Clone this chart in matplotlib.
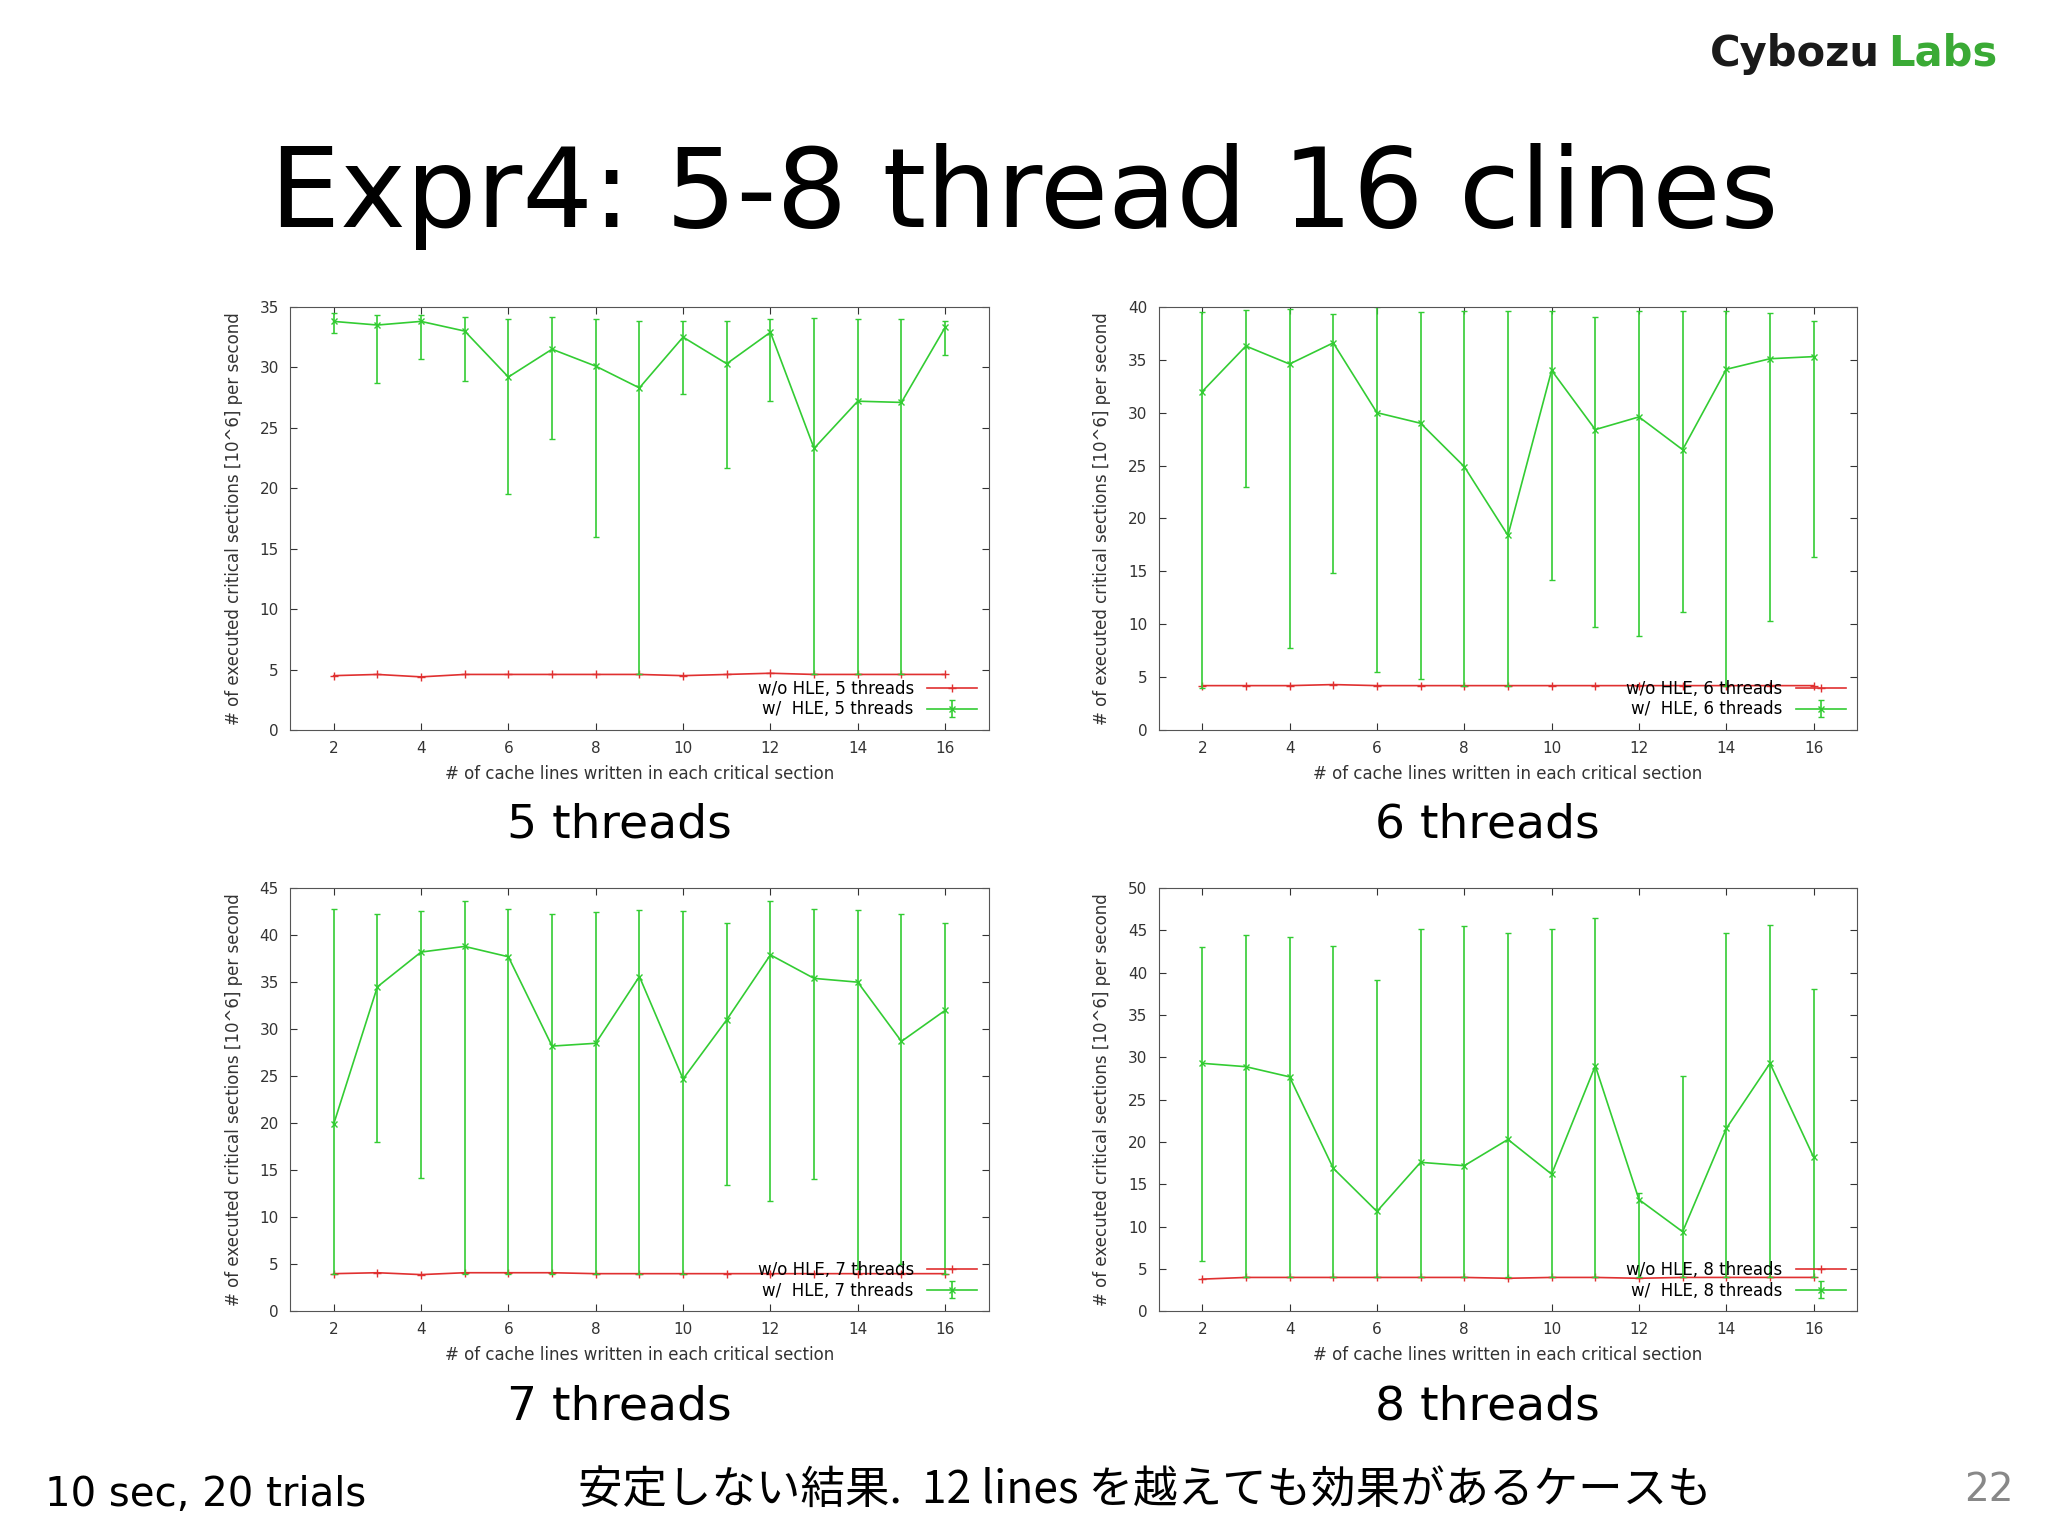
import numpy as np
import matplotlib
matplotlib.use('Agg')
import matplotlib.pyplot as plt

plt.rcParams['font.family'] = ['DejaVu Sans', 'Noto Sans CJK JP']

x = np.arange(2, 17)

# 5 threads
hle5 = [33.8, 33.5, 33.8, 33.0, 29.2, 31.5, 30.1, 28.3, 32.5, 30.3, 32.9, 23.3, 27.2, 27.1, 33.3]
lo5 = [32.8, 28.7, 30.7, 28.9, 19.5, 24.1, 16.0, 4.6, 27.8, 21.7, 27.2, 4.6, 4.6, 4.6, 31.0]
hi5 = [34.5, 34.3, 34.3, 34.2, 34.0, 34.2, 34.0, 33.8, 33.8, 33.8, 34.0, 34.1, 34.0, 34.0, 33.8]
nohle5 = [4.5, 4.6, 4.4, 4.6, 4.6, 4.6, 4.6, 4.6, 4.5, 4.6, 4.7, 4.6, 4.6, 4.6, 4.6]

# 6 threads
hle6 = [32.0, 36.3, 34.6, 36.6, 30.0, 29.0, 24.9, 18.4, 34.0, 28.4, 29.6, 26.5, 34.1, 35.1, 35.3]
lo6 = [4.0, 23.0, 7.8, 14.8, 5.5, 4.8, 4.2, 4.2, 14.2, 9.7, 8.9, 11.2, 4.2, 10.3, 16.4]
hi6 = [39.5, 39.7, 39.8, 39.3, 40.0, 39.5, 39.6, 39.6, 39.6, 39.0, 39.6, 39.6, 39.6, 39.4, 38.7]
nohle6 = [4.2, 4.2, 4.2, 4.3, 4.2, 4.2, 4.2, 4.2, 4.2, 4.2, 4.2, 4.2, 4.2, 4.2, 4.2]

# 7 threads
hle7 = [19.9, 34.5, 38.2, 38.8, 37.7, 28.2, 28.5, 35.6, 24.7, 31.0, 37.9, 35.4, 35.0, 28.7, 32.0]
lo7 = [4.0, 18.0, 14.2, 4.0, 4.0, 4.0, 4.0, 4.0, 4.0, 13.4, 11.7, 14.1, 4.5, 5.0, 4.0]
hi7 = [42.8, 42.2, 42.6, 43.6, 42.8, 42.3, 42.5, 42.7, 42.6, 41.3, 43.6, 42.8, 42.7, 42.2, 41.3]
nohle7 = [4.0, 4.1, 3.9, 4.1, 4.1, 4.1, 4.0, 4.0, 4.0, 4.0, 4.0, 4.0, 4.0, 4.0, 4.0]

# 8 threads
hle8 = [29.3, 28.9, 27.7, 16.9, 11.8, 17.6, 17.2, 20.3, 16.2, 29.0, 13.2, 9.4, 21.6, 29.3, 18.2]
lo8 = [6.0, 4.0, 4.0, 4.0, 4.0, 4.0, 4.0, 4.0, 4.0, 4.0, 4.0, 4.0, 4.0, 4.0, 4.0]
hi8 = [43.0, 44.5, 44.2, 43.2, 39.1, 45.2, 45.5, 44.7, 45.2, 46.5, 14.0, 27.8, 44.7, 45.7, 38.1]
nohle8 = [3.8, 4.0, 4.0, 4.0, 4.0, 4.0, 4.0, 3.9, 4.0, 4.0, 3.9, 4.0, 4.0, 4.0, 4.0]

panels = [
    (5, hle5, lo5, hi5, nohle5, 35),
    (6, hle6, lo6, hi6, nohle6, 40),
    (7, hle7, lo7, hi7, nohle7, 45),
    (8, hle8, lo8, hi8, nohle8, 50),
]
pos = [(0.1416, 0.5247), (0.5657, 0.5247), (0.1416, 0.1463), (0.5657, 0.1463)]
w, h = 0.3412, 0.2755

fig = plt.figure(figsize=(20.48, 15.36), dpi=100)
green = '#33cc33'
red = '#e03030'

for (n, hle, lo, hi, nohle, ymax), (l, b) in zip(panels, pos):
    ax = fig.add_axes([l, b, w, h])
    hle = np.array(hle); lo = np.array(lo); hi = np.array(hi)
    ax.plot(x, nohle, color=red, lw=1.2, marker='+', ms=6,
            label='w/o HLE, %d threads' % n)
    ax.errorbar(x, hle, yerr=[hle - lo, hi - hle], color=green, lw=1.2,
                marker='x', ms=4, capsize=2.5, elinewidth=1.2,
                label='w/  HLE, %d threads' % n)
    ax.set_xlim(1, 17)
    ax.set_ylim(0, ymax)
    ax.set_xticks(range(2, 17, 2))
    ax.set_yticks(range(0, ymax + 1, 5))
    ax.tick_params(direction='in', top=True, right=True, labelsize=11,
                   colors='#333333', length=5, pad=8)
    for s in ax.spines.values():
        s.set_color('#555555')
    ax.set_xlabel('# of cache lines written in each critical section',
                  fontsize=12, color='#333333', labelpad=6)
    ax.set_ylabel('# of executed critical sections [10^6] per second',
                  fontsize=12, color='#333333', labelpad=12)
    ax.legend(loc='lower right', frameon=False, markerfirst=False,
              fontsize=12, handlelength=3, labelspacing=0.15,
              borderaxespad=0.3)
    fig.text(l + w / 2 - 0.01, b - 0.062, '%d threads' % n, fontsize=34,
             ha='center', va='center')

fig.text(0.50, 0.872, 'Expr4: 5-8 thread 16 clines', fontsize=80,
         ha='center', va='center')
fig.text(0.918, 0.965, 'Cybozu', fontsize=30, fontweight='bold',
         color='#1a1a1a', ha='right', va='center')
fig.text(0.922, 0.965, 'Labs', fontsize=30, fontweight='bold',
         color='#3aaa35', ha='left', va='center')
fig.text(0.022, 0.027, '10 sec, 20 trials', fontsize=29, ha='left', va='center')
fig.text(0.282, 0.030, '安定しない結果.  12 lines を越えても効果があるケースも',
         fontsize=32, ha='left', va='center',
         family=['Noto Sans CJK JP', 'DejaVu Sans'])
fig.text(0.983, 0.030, '22', fontsize=28, color='#888888', ha='right', va='center')

fig.savefig('out.png')
